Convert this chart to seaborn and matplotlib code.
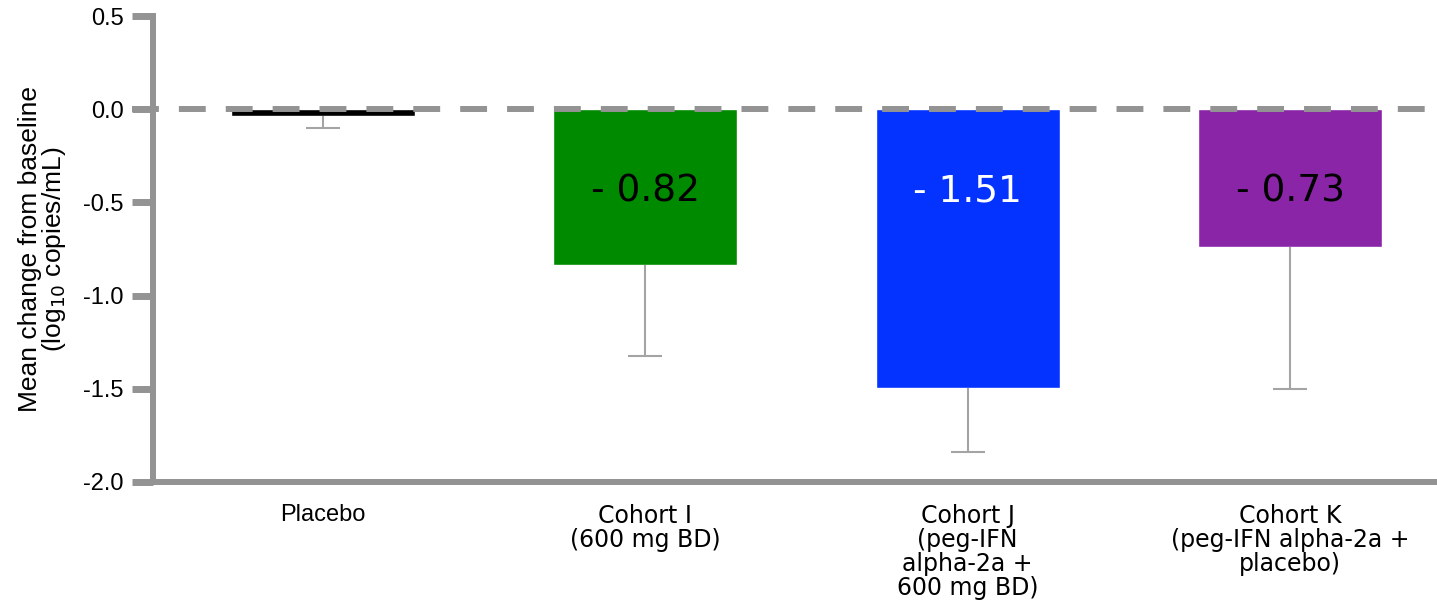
import pandas as pd
import matplotlib.pyplot as plt
import seaborn as sns

# data
groups = ["Placebo", "Cohort I\n(600 mg BD)", "Cohort J\n(peg-IFN\nalpha-2a +\n600 mg BD)",
          "Cohort K\n(peg-IFN alpha-2a +\nplacebo)"]
mean_change = [-0.035, -0.836, -1.495, -0.738]
lower_err = [0.065, 0.49, 0.346, 0.765]
bar_labels = ["", "- 0.82", "- 1.51", "- 0.73"]
label_colors = ["black", "black", "white", "black"]
bar_colors = ["#000000", "#008a00", "#0433ff", "#8a25a8"]

df = pd.DataFrame({"group": groups, "change": mean_change})

sns.set_style("white")
plt.rcParams["text.color"] = "black"
plt.rcParams["axes.labelcolor"] = "black"
plt.rcParams["xtick.color"] = "black"
plt.rcParams["ytick.color"] = "black"

fig = plt.figure(figsize=(14.37, 6.04), dpi=100)
ax = fig.add_axes([0.1065, 0.202, 0.8935, 0.7715])

sns.barplot(data=df, x="group", y="change", hue="group", palette=bar_colors,
            legend=False, width=0.57, saturation=1, ax=ax, zorder=2)

# one-sided (downward) error bars
eb = ax.errorbar(range(len(groups)), mean_change, yerr=[lower_err, [0] * len(groups)],
                 fmt="none", ecolor="#a4a4a4", elinewidth=1.5, capsize=12, capthick=1.5, zorder=3)
eb[1][1].set_visible(False)  # hide the cap at the bar end

# dashed zero line on top of the bars
ax.axhline(0, xmin=-0.016, color="#939393", lw=4.3, dashes=(4.5, 3.35), zorder=4, clip_on=False)

for i, (txt, c) in enumerate(zip(bar_labels, label_colors)):
    if txt:
        ax.text(i, -0.44, txt, ha="center", va="center", fontsize=27,
                color=c, family="DejaVu Sans", zorder=5)

ax.set_ylim(-2.0, 0.5)
ax.set_xlim(-0.527, 3.456)
ax.set_yticks([0.5, 0.0, -0.5, -1.0, -1.5, -2.0])
ax.set_yticklabels(["0.5", "0.0", "-0.5", "-1.0", "-1.5", "-2.0"],
                   family="Liberation Sans", fontsize=17)
ax.set_xlabel("")
ax.set_ylabel("Mean change from baseline\n(log$_{10}$ copies/mL)",
              family="Liberation Sans", fontsize=19, labelpad=11, linespacing=0.9)

for i, lab in enumerate(ax.get_xticklabels()):
    lab.set_fontsize(17)
    lab.set_family("Liberation Sans" if i == 0 else "DejaVu Sans")
    lab.set_linespacing(1.0)
ax.tick_params(axis="x", length=0, pad=16)
ax.tick_params(axis="y", left=True, length=15, width=5, color="#939393",
               labelcolor="black", pad=6, direction="out")

for side in ["top", "right"]:
    ax.spines[side].set_visible(False)
for side in ["left", "bottom"]:
    ax.spines[side].set_color("#939393")
    ax.spines[side].set_linewidth(4.3)

fig.savefig("out.png", dpi=100)
